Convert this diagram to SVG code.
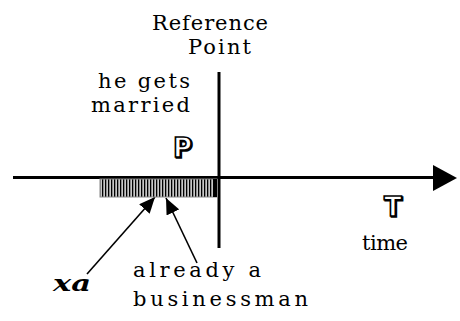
<svg xmlns="http://www.w3.org/2000/svg" width="460" height="321" viewBox="0 0 460 321">
<style>
.t{font-family:"DejaVu Serif","Liberation Serif",serif;font-size:21px;fill:#000}
.o{font-family:"DejaVu Sans","Liberation Sans",sans-serif;font-weight:bold;font-size:26px;fill:#fff;stroke:#000;stroke-width:1.6}
.os{font-family:"DejaVu Sans","Liberation Sans",sans-serif;font-weight:bold;font-size:26px;fill:#000;stroke:#000;stroke-width:1.6}
.ax{stroke:#000;stroke-width:3;fill:none}
.ar{stroke:#000;stroke-width:1.6;fill:none;marker-end:url(#ah)}
</style>
<defs>
<marker id="ah" markerUnits="userSpaceOnUse" markerWidth="18" markerHeight="14" refX="16" refY="7" orient="auto">
<path d="M0,0 L16,7 L0,14 z" fill="#000"/>
</marker>
<pattern id="hatch" patternUnits="userSpaceOnUse" width="3" height="4">
<rect width="3" height="4" fill="#c8c8c8"/>
<rect width="1.3" height="4" fill="#000"/>
</pattern>
</defs>
<g id="connectors">
<line class="ax" x1="13" y1="177.5" x2="436" y2="177.5"/>
<polygon points="433,165 457,178 433,191" fill="#000"/>
<line class="ax" x1="219" y1="72" x2="219" y2="248"/>
<line class="ar" x1="87" y1="274" x2="155" y2="197"/>
<line class="ar" x1="197" y1="263" x2="166" y2="198"/>
</g>
<g id="bar">
<rect x="100" y="179" width="117" height="18" fill="url(#hatch)" stroke="#888" stroke-width="1"/>
<rect x="213" y="179" width="4" height="18" fill="#000"/>
</g>
<g id="reference-point">
<text class="t" x="152" y="30" textLength="116" lengthAdjust="spacing">Reference</text>
<text class="t" x="188" y="54" textLength="63" lengthAdjust="spacing">Point</text>
</g>
<g id="married">
<text class="t" x="98" y="88" textLength="92" lengthAdjust="spacing">he gets</text>
<text class="t" x="91" y="112" textLength="99" lengthAdjust="spacing">married</text>
</g>
<g id="P">
<text class="os" x="174" y="158">P</text>
<text class="o" x="173" y="157">P</text>
</g>
<g id="T">
<text class="os" x="385" y="217">T</text>
<text class="o" x="384" y="216">T</text>
</g>
<g id="time">
<text class="t" x="362" y="250" textLength="46" lengthAdjust="spacing">time</text>
</g>
<g id="xa">
<text x="53" y="291" textLength="38" lengthAdjust="spacingAndGlyphs" style="font-family:'DejaVu Serif','Liberation Serif',serif;font-weight:bold;font-style:italic;font-size:23px">xa</text>
</g>
<g id="businessman">
<text class="t" x="133" y="277" textLength="128" lengthAdjust="spacing">already a</text>
<text class="t" x="133" y="306" textLength="175" lengthAdjust="spacing">businessman</text>
</g>
</svg>
